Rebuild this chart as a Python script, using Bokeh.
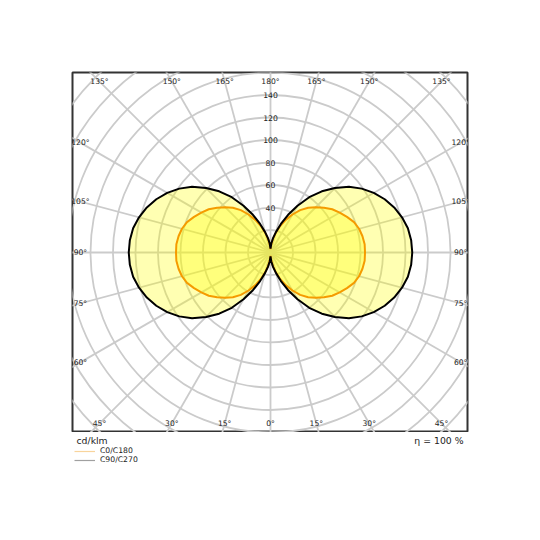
import numpy as np
from bokeh.plotting import figure
from bokeh.layouts import column
from bokeh.models import Legend, LegendItem
from bokeh.core.properties import value
from bokeh.embed import file_html
from bokeh.resources import INLINE

# ---- data (cd/klm), gamma angles from nadir, 5 deg steps 0..180 ----
GAMMA = list(range(0, 185, 5))
C90_C270 = [3.5, 8, 13, 19, 27, 37, 48, 60, 71, 81, 91, 99, 106, 112, 117, 121, 124, 125.5,
            126,
            125.5, 124, 121, 117, 112, 106, 99, 91, 81, 71, 60, 48, 37, 27, 19, 13, 8, 3.5]
C0_C180 = [3, 7, 12, 18, 25, 32, 39, 46, 52, 57, 62, 67, 71, 75, 79, 81.5, 83, 84,
           84,
           84, 83, 81.5, 79, 75, 71, 67, 62, 57, 52, 46, 39, 32, 25, 18, 12, 7, 3]

RING_VALUES = [20, 40, 60, 80, 100, 120, 140, 160, 180, 200, 220, 240, 260]
RING_LABELS = [40, 60, 80, 100, 120, 140]
SPOKE_ANGLES = list(range(0, 360, 15))
ANGLE_TICKS = [0, 15, 30, 45, 60, 75, 90, 105, 120, 135, 150, 165, 180]
UNIT_TEXT = "cd/klm"
ETA_TEXT = "η = 100 %"
LEGEND_LABELS = ["C0/C180", "C90/C270"]

FONT_NAME = "DejaVu Sans"
FONT = value(FONT_NAME)
GRID = "#cbcbcb"
TXT = "#222222"

FW, FH = 395, 360
p = figure(width=72 + FW + 65, height=72 + FH, x_range=(-176, 175.1), y_range=(-160, 160),
           x_axis_type=None, y_axis_type=None, toolbar_location=None,
           output_backend="svg", min_border_left=72, min_border_right=65,
           min_border_top=72, min_border_bottom=0)
p.grid.visible = False
p.outline_line_color = "#333333"
p.outline_line_width = 2
p.background_fill_color = "white"
p.border_fill_color = "white"

# grid rings
p.circle(x=[0] * len(RING_VALUES), y=[0] * len(RING_VALUES), radius=RING_VALUES,
         fill_color=None, line_color=GRID, line_width=1.8)
# spokes
sa = np.radians(SPOKE_ANGLES)
R = 300
p.segment(x0=[0] * len(sa), y0=[0] * len(sa), x1=list(R * np.sin(sa)), y1=list(-R * np.cos(sa)),
          line_color=GRID, line_width=1.8)


def curve(vals):
    g = np.radians(GAMMA)
    v = np.array(vals, dtype=float)
    xr = v * np.sin(g)
    yr = -v * np.cos(g)
    xl = -xr[::-1]
    yl = yr[::-1]
    xs = list(xr) + list(xl)
    ys = list(yr) + list(yl)
    return xs + [xs[0]], ys + [ys[0]]


bx, by = curve(C90_C270)
ox, oy = curve(C0_C180)
p.patch(bx, by, fill_color="#ffff00", fill_alpha=0.3, line_color=None)
p.patch(ox, oy, fill_color="#ffff00", fill_alpha=0.3, line_color=None)
p.line(ox, oy, line_color="#f59b00", line_width=2)
p.line(bx, by, line_color="black", line_width=2)

# radial value labels
p.text(x=[0] * len(RING_LABELS), y=RING_LABELS, text=[str(v) for v in RING_LABELS],
       text_align="center", text_baseline="middle", text_font=FONT,
       text_font_size="7.7px", text_color=TXT)

# angle labels along inset box
lx, ly, lt = [], [], []
XB, YB = 169.0, 152.0
for side in (1, -1):
    for a in ANGLE_TICKS:
        if side == -1 and a in (0, 180):
            continue
        r = np.radians(a)
        dx, dy = side * np.sin(r), -np.cos(r)
        t = min(XB / abs(dx) if abs(dx) > 1e-9 else 1e9, YB / abs(dy) if abs(dy) > 1e-9 else 1e9)
        lx.append(t * dx)
        ly.append(t * dy)
        lt.append(f"{a}°")
p.text(x=lx, y=ly, text=lt, text_align="center", text_baseline="middle",
       text_font=FONT, text_font_size="7.6px", text_color=TXT)

# ---- footer strip: unit, efficiency, legend ----
BH = 60
q = figure(width=72 + FW + 65, height=BH, x_range=(0, FW), y_range=(0, BH),
           x_axis_type=None, y_axis_type=None, toolbar_location=None,
           output_backend="svg", min_border_left=72, min_border_right=65,
           min_border_top=0, min_border_bottom=0)
q.grid.visible = False
q.outline_line_color = None
q.text(x=[4], y=[BH - 8], text=[UNIT_TEXT], text_align="left", text_baseline="middle",
       text_font=FONT, text_font_size="9.3px", text_color=TXT)
q.text(x=[FW - 4], y=[BH - 8], text=[ETA_TEXT], text_align="right", text_baseline="middle",
       text_font=FONT, text_font_size="9.3px", text_color=TXT)

# legend proxies (kept outside the visible strip)
r1 = q.line(x=[-50, -40], y=[-50, -50], line_color="#f8d49c", line_width=1.2)
r2 = q.line(x=[-50, -40], y=[-50, -50], line_color="#a0a0a0", line_width=1.2)
legend = Legend(items=[LegendItem(label=LEGEND_LABELS[0], renderers=[r1]),
                       LegendItem(label=LEGEND_LABELS[1], renderers=[r2])],
                location=(2, BH - 32), orientation="vertical", padding=0, margin=0, spacing=0,
                glyph_width=21, glyph_height=8, label_height=8, label_standoff=5,
                label_text_font=FONT_NAME, label_text_font_size="7.7px", label_text_color=TXT,
                border_line_alpha=0, background_fill_alpha=0)
q.add_layout(legend)

layout = column(p, q, spacing=0)
open("out.html", "w").write(file_html(layout, INLINE))
